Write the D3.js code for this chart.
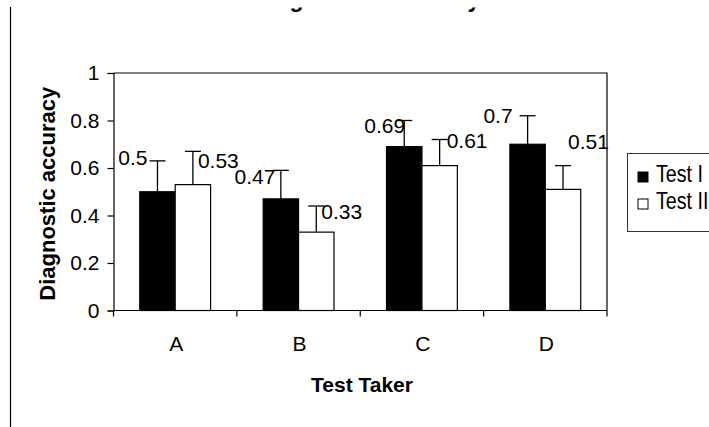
<!DOCTYPE html>
<html>
<head>
<meta charset="utf-8">
<script src="https://cdn.jsdelivr.net/npm/d3@7"></script>
<style>
  html, body { margin: 0; padding: 0; background: #fff; }
  svg { display: block; font-family: "Liberation Sans", Arial, sans-serif; }
</style>
</head>
<body>
<svg id="chart" width="709" height="427"></svg>
<script>
// ---- data ----
const categories = ["A", "B", "C", "D"];
const seriesNames = ["Test I", "Test II"];
const testI = [0.5, 0.47, 0.69, 0.7];
const testII = [0.53, 0.33, 0.61, 0.51];
const errI = [0.13, 0.12, 0.11, 0.12];
const errII = [0.14, 0.11, 0.11, 0.10];
const yTicks = [0, 0.2, 0.4, 0.6, 0.8, 1];
const yTickLabels = ["0", "0.2", "0.4", "0.6", "0.8", "1"];
const chartTitle = "Diagnostic Accuracy";
const xTitle = "Test Taker";
const yTitle = "Diagnostic accuracy";

// ---- layout (label placement, relative to error-bar top) ----
const labelLayoutI = [
  { dx: -10, dy: -3, anchor: "end" },
  { dx: -5.5, dy: 6, anchor: "end" },
  { dx: 1, dy: 5, anchor: "end" },
  { dx: -15, dy: 0, anchor: "end" }
];
const labelLayoutII = [
  { dx: 5, dy: 9, anchor: "start" },
  { dx: 5, dy: 5.5, anchor: "start" },
  { dx: 7, dy: 1, anchor: "start" },
  { dx: 5, dy: -24.5, anchor: "start" }
];

const svg = d3.select("#chart");
const pLeft = 113.5, pRight = 607, pTop = 73, pBottom = 310.5;

const x0 = d3.scaleBand().domain(categories).range([pLeft, pRight]).padding(0);
const barW = x0.bandwidth() * 0.287;
const x1 = d3.scaleBand().domain(seriesNames)
  .range([x0.bandwidth() / 2 - barW, x0.bandwidth() / 2 + barW]).padding(0);
const y = d3.scaleLinear().domain([0, 1]).range([pBottom, pTop]);

const series = [
  { name: seriesNames[0], values: testI, errs: errI, fill: "#000", layout: labelLayoutI },
  { name: seriesNames[1], values: testII, errs: errII, fill: "#fff", layout: labelLayoutII }
];

// the visible area of the original picture starts a few pixels down
svg.append("defs").append("clipPath").attr("id", "viewClip")
  .append("rect").attr("x", 0).attr("y", 7.5).attr("width", 709).attr("height", 420);

// frame line on left
svg.append("line").attr("x1", 10.5).attr("x2", 10.5).attr("y1", 7).attr("y2", 427)
  .attr("stroke", "#000").attr("stroke-width", 1.2);

// title (mostly cut off at top in the original)
svg.append("text").attr("x", 367).attr("y", 7).attr("text-anchor", "middle")
  .attr("clip-path", "url(#viewClip)")
  .attr("font-size", 23).attr("font-weight", "bold").text(chartTitle);

// plot box (top and right)
svg.append("path")
  .attr("d", `M${pLeft},${pTop}H${pRight}V${pBottom}`)
  .attr("fill", "none").attr("stroke", "#000").attr("stroke-width", 1.2);

// bars
const g = svg.append("g");
series.forEach(s => {
  categories.forEach((c, i) => {
    const bx = x0(c) + x1(s.name);
    g.append("rect")
      .attr("x", bx).attr("y", y(s.values[i]))
      .attr("width", x1.bandwidth()).attr("height", y(0) - y(s.values[i]))
      .attr("fill", s.fill).attr("stroke", "#000").attr("stroke-width", 1.2);
  });
});

// error bars + labels
series.forEach(s => {
  categories.forEach((c, i) => {
    const cx = x0(c) + x1(s.name) + x1.bandwidth() / 2;
    const ty = y(s.values[i] + s.errs[i]);
    g.append("line").attr("x1", cx).attr("x2", cx)
      .attr("y1", y(s.values[i])).attr("y2", ty)
      .attr("stroke", "#000").attr("stroke-width", 1.3);
    g.append("line").attr("x1", cx - 8).attr("x2", cx + 8)
      .attr("y1", ty).attr("y2", ty)
      .attr("stroke", "#000").attr("stroke-width", 1.3);
    const L = s.layout[i];
    g.append("text").attr("x", cx + L.dx).attr("y", ty + L.dy)
      .attr("text-anchor", L.anchor).attr("dominant-baseline", "central")
      .attr("font-size", 21).text(String(s.values[i]));
  });
});

// y axis
const yAxis = d3.axisLeft(y).tickValues(yTicks)
  .tickFormat((d, i) => yTickLabels[i]).tickSize(6).tickPadding(8);
const ya = svg.append("g").attr("transform", `translate(${pLeft},0)`).call(yAxis);
ya.select(".domain").attr("stroke-width", 1.2);
ya.selectAll(".tick line").attr("stroke-width", 1.2);
ya.selectAll("text").attr("font-size", 21).attr("font-family", "Liberation Sans, Arial, sans-serif").attr("fill", "#000");

// x axis line + boundary ticks
svg.append("line").attr("x1", pLeft).attr("x2", pRight).attr("y1", pBottom).attr("y2", pBottom)
  .attr("stroke", "#000").attr("stroke-width", 1.2);
const bounds = categories.map(c => x0(c)).concat([x0(categories[categories.length - 1]) + x0.bandwidth()]);
svg.selectAll(".xt").data(bounds).enter().append("line")
  .attr("x1", d => d).attr("x2", d => d).attr("y1", pBottom).attr("y2", pBottom + 6)
  .attr("stroke", "#000").attr("stroke-width", 1.2);
svg.selectAll(".xl").data(categories).enter().append("text")
  .attr("x", d => x0(d) + x0.bandwidth() / 2 + 1).attr("y", 351)
  .attr("text-anchor", "middle").attr("font-size", 21).text(d => d);

// axis titles
svg.append("text").attr("x", 362).attr("y", 392).attr("text-anchor", "middle")
  .attr("font-size", 21).attr("font-weight", "bold").text(xTitle);
svg.append("text").attr("transform", `translate(55,${(pTop + pBottom) / 2 + 2}) rotate(-90)`)
  .attr("text-anchor", "middle").attr("font-size", 22).attr("font-weight", "bold").text(yTitle);

// legend
const lg = svg.append("g");
lg.append("rect").attr("x", 627.5).attr("y", 153.5).attr("width", 100).attr("height", 78)
  .attr("fill", "#fff").attr("stroke", "#333").attr("stroke-width", 1);
series.forEach((s, i) => {
  const ly = 172 + i * 27;
  lg.append("rect").attr("x", 638).attr("y", ly).attr("width", 10).attr("height", 10)
    .attr("fill", s.fill).attr("stroke", "#000").attr("stroke-width", 1);
  lg.append("text").attr("transform", `translate(656,${ly + 10}) scale(0.82,1)`)
    .attr("font-size", 24).text(s.name);
});
</script>
</body>
</html>
